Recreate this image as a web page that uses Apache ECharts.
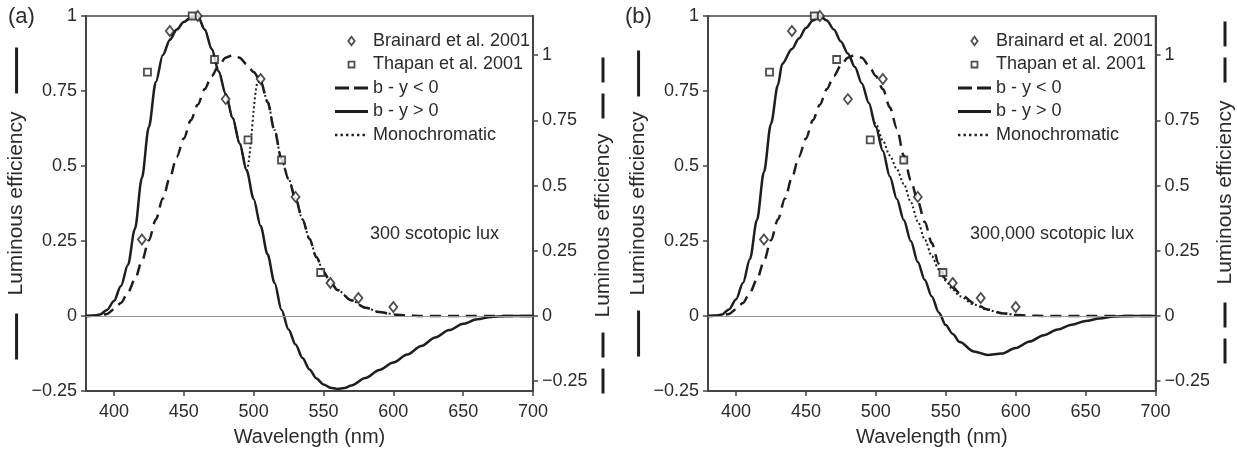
<!DOCTYPE html>
<html><head><meta charset="utf-8">
<script src="https://cdn.jsdelivr.net/npm/echarts@6/dist/echarts.min.js"></script>
<style>html,body{margin:0;padding:0;background:#fff}#c{width:1237px;height:452px}</style>
</head><body><div id="c"></div>
<script>
// ---------- ticks ----------
const xTicks = [400, 450, 500, 550, 600, 650, 700];
const rightTicks = [-0.25, 0, 0.25, 0.5, 0.75, 1];

// ---------- measured points (both panels) ----------
const brainardNm  = [420, 440, 460, 480, 505, 530, 555, 575, 600];
const brainardVal = [0.255, 0.95, 1.0, 0.723, 0.79, 0.397, 0.11, 0.06, 0.03];
const thapanNm  = [424, 456, 472, 496, 520, 548];
const thapanVal = [0.813, 1.0, 0.855, 0.587, 0.52, 0.145];

// ---------- panel (a): 300 scotopic lux ----------
const solidA_nm = [380,385,390,395,400,405,410,415,420,425,430,435,440,445,450,455,460,465,470,475,480,485,490,495,500,505,510,515,520,525,530,535,540,545,550,555,560,565,570,580,590,600,610,620,630,640,650,660,670,680,690,700];
const solidA    = [0,0.001,0.005,0.02,0.05,0.1,0.17,0.29,0.46,0.63,0.78,0.87,0.92,0.955,0.98,0.995,1.0,0.955,0.89,0.815,0.74,0.66,0.575,0.485,0.39,0.3,0.205,0.11,0.02,-0.045,-0.095,-0.14,-0.178,-0.208,-0.228,-0.239,-0.243,-0.24,-0.232,-0.207,-0.18,-0.155,-0.128,-0.1,-0.072,-0.047,-0.026,-0.011,-0.003,0,0,0];
// dashed curve is read on the right-hand axis
const dashA_nm = [380,390,395,400,405,410,415,420,425,430,435,440,445,450,455,460,465,470,475,480,485,490,495,500,505,510,515,520,525,530,535,540,545,550,555,560,570,580,590,600,610,620,650,700];
const dashA    = [0,0.002,0.008,0.025,0.05,0.09,0.14,0.21,0.29,0.37,0.45,0.53,0.61,0.68,0.75,0.81,0.87,0.92,0.96,0.99,1.0,0.99,0.965,0.935,0.9,0.82,0.71,0.6,0.525,0.45,0.37,0.295,0.225,0.17,0.13,0.1,0.06,0.032,0.015,0.006,0.002,0,0,0];
const monoA_nm = [440,445,450,455,460,465,470,475,480,485,490,495,503,505,510,515,520,525,530,535,540,545,550,555,560,570,580,590,600];
const monoA    = [0.92,0.955,0.98,0.995,1.0,0.955,0.89,0.815,0.74,0.66,0.575,0.485,0.78,0.785,0.715,0.62,0.52,0.457,0.392,0.322,0.257,0.196,0.148,0.113,0.087,0.052,0.028,0.013,0.005];

// ---------- panel (b): 300,000 scotopic lux ----------
const solidB_nm = [380,385,390,395,400,405,410,415,420,425,430,433,440,445,450,455,460,465,470,475,480,485,490,495,500,505,510,515,520,525,530,535,540,545,550,555,560,570,580,590,600,610,620,630,640,650,660,670,680,690,700];
const solidB    = [0,0.001,0.005,0.022,0.055,0.11,0.19,0.32,0.48,0.64,0.77,0.84,0.89,0.925,0.96,0.985,1.0,0.985,0.955,0.915,0.875,0.83,0.775,0.71,0.63,0.55,0.465,0.39,0.32,0.25,0.18,0.12,0.065,0.012,-0.03,-0.06,-0.087,-0.118,-0.13,-0.125,-0.107,-0.085,-0.064,-0.045,-0.029,-0.017,-0.008,-0.002,0,0,0];
const dashB_nm = [380,390,395,400,405,410,415,420,425,430,435,440,445,450,455,460,465,470,475,480,485,490,495,500,505,510,515,520,525,530,535,540,545,550,555,560,570,580,590,600,610,620,650,700];
const dashB    = [0,0.002,0.008,0.025,0.05,0.09,0.14,0.21,0.29,0.37,0.45,0.53,0.61,0.68,0.75,0.81,0.87,0.92,0.96,0.99,1.0,0.99,0.96,0.92,0.87,0.8,0.72,0.615,0.52,0.44,0.36,0.28,0.2,0.14,0.11,0.087,0.05,0.025,0.011,0.004,0.001,0,0,0];
const monoB_nm = [497,500,505,510,515,520,525,530,535,540,545,550,555,560,570,580,590,600];
const monoB    = [0.675,0.64,0.585,0.535,0.49,0.44,0.38,0.315,0.255,0.2,0.155,0.118,0.088,0.066,0.038,0.02,0.009,0.003];

// ---------- helpers ----------
const FONT = 'Liberation Sans, Arial, sans-serif';
const INK = '#1e1e1e';
const TXT = '#2b2b2b';
const pairs = (xs, ys) => xs.map((x, i) => [x, ys[i]]);
const fmt = v => { const r = Math.round(v * 10000) / 10000; return r < 0 ? '\u2212' + String(-r) : String(r); };

const N_BR = 'Brainard et al. 2001', N_TH = 'Thapan et al. 2001';
const N_NEG = 'b - y < 0', N_POS = 'b - y > 0', N_MONO = 'Monochromatic';

function xAxisDef(grid) {
  return {
    type: 'value', gridIndex: grid, min: 380, max: 700,
    name: 'Wavelength (nm)', nameLocation: 'middle', nameGap: 36,
    nameTextStyle: { fontSize: 20, color: TXT, fontFamily: FONT },
    axisLine: { show: true, onZero: false, lineStyle: { color: '#444', width: 2 } },
    axisTick: { show: true, length: 5, customValues: xTicks, lineStyle: { color: '#444', width: 1.5 } },
    axisLabel: { customValues: xTicks, fontSize: 18, color: TXT, fontFamily: FONT, margin: 12 },
    splitLine: { show: false }
  };
}
const barRich = () => ({
  s: { width: 46, height: 3, backgroundColor: INK, verticalAlign: 'middle' },
  d: { width: 25, height: 3, backgroundColor: INK, verticalAlign: 'middle' },
  h: { width: 11 },
  g: { width: 18 },
  g2: { width: 15 },
  p: { width: 44 },
  q: { width: 22 }
});

function leftY(grid, name) {
  return {
    type: 'value', gridIndex: grid, position: 'left', min: -0.25, max: 1, interval: 0.25,
    name: name, nameLocation: 'middle', nameRotate: 90, nameGap: 49,
    nameTextStyle: { fontSize: 21, color: TXT, fontFamily: FONT, lineHeight: 22, rich: barRich() },
    axisLine: { show: true, onZero: false, lineStyle: { color: '#444', width: 2 } },
    axisTick: { show: true, length: 5, lineStyle: { color: '#444', width: 1.5 } },
    axisLabel: { fontSize: 18, color: TXT, fontFamily: FONT, margin: 9, formatter: fmt },
    splitLine: { show: false }
  };
}
function rightY(grid, name, gap) {
  return {
    type: 'value', gridIndex: grid, position: 'right', min: -0.2875, max: 1.15,
    name: name, nameLocation: 'middle', nameRotate: 90, nameGap: gap,
    nameTextStyle: { fontSize: 21, color: TXT, fontFamily: FONT, lineHeight: 22, rich: barRich() },
    axisLine: { show: true, onZero: false, lineStyle: { color: '#444', width: 2 } },
    axisTick: { show: true, length: 5, customValues: rightTicks, lineStyle: { color: '#444', width: 1.5 } },
    axisLabel: { customValues: rightTicks, fontSize: 18, color: TXT, fontFamily: FONT, margin: 9, formatter: fmt },
    splitLine: { show: false }
  };
}

const MK = { color: '#fff', borderColor: '#222', borderWidth: 1.8 };
function panelSeries(p, solid, dash, mono) {
  const xi = p, yl = p * 2, yr = p * 2 + 1;
  return [
    { name: N_POS, type: 'line', xAxisIndex: xi, yAxisIndex: yl, data: solid, symbol: 'none', smooth: 0.3, smoothMonotone: 'x',
      lineStyle: { color: INK, width: 2.5, type: 'solid' }, itemStyle: { color: INK }, z: 3,
      markLine: { silent: true, symbol: 'none', label: { show: false }, animation: false,
        lineStyle: { color: '#999', width: 1, type: 'solid' }, data: [{ yAxis: 0 }] } },
    { name: N_NEG, type: 'line', xAxisIndex: xi, yAxisIndex: yr, data: dash, symbol: 'none', smooth: 0.3, smoothMonotone: 'x',
      lineStyle: { color: INK, width: 2.5, type: [11, 7] }, itemStyle: { color: INK }, z: 3 },
    { name: N_MONO, type: 'line', xAxisIndex: xi, yAxisIndex: yl, data: mono, symbol: 'none', smooth: 0.3, smoothMonotone: 'x',
      lineStyle: { color: INK, width: 2, type: [2, 2.5] }, itemStyle: { color: INK }, z: 3 },
    { name: N_BR, type: 'scatter', xAxisIndex: xi, yAxisIndex: yl, data: pairs(brainardNm, brainardVal),
      symbol: 'diamond', symbolSize: [8, 10], itemStyle: MK, z: 5 },
    { name: N_TH, type: 'scatter', xAxisIndex: xi, yAxisIndex: yl, data: pairs(thapanNm, thapanVal),
      symbol: 'rect', symbolSize: 7, itemStyle: MK, z: 5 }
  ];
}

const INKFILL = { color: INK, borderWidth: 0 };
const legendData = [
  { name: N_BR, icon: 'path://M-8,-8M8,8M0,-4.8L3.6,0L0,4.8L-3.6,0Z', itemStyle: MK },
  { name: N_TH, icon: 'path://M-8,-8M8,8M-3.4,-3.4L3.4,-3.4L3.4,3.4L-3.4,3.4Z', itemStyle: MK },
  { name: N_NEG, icon: 'path://M0,0h14v3h-14zM19,0h14v3h-14z', itemStyle: INKFILL },
  { name: N_POS, icon: 'path://M0,0h33v3h-33z', itemStyle: INKFILL },
  { name: N_MONO, icon: 'path://M0,0h2.4v2.4h-2.4zM5.5,0h2.4v2.4h-2.4zM11,0h2.4v2.4h-2.4zM16.5,0h2.4v2.4h-2.4zM22,0h2.4v2.4h-2.4zM27.5,0h2.4v2.4h-2.4zM33,1.2', itemStyle: INKFILL }
];
function legendDef(left) {
  return {
    orient: 'vertical', left: left, top: 32, padding: 0, itemWidth: 33, itemHeight: 14, itemGap: 5.5,
    selectedMode: false, data: legendData,
    textStyle: { fontSize: 18, color: TXT, fontFamily: FONT, lineHeight: 18 }
  };
}

const chart = echarts.init(document.getElementById('c'), null, { renderer: 'canvas' });
chart.setOption({
  backgroundColor: '#fff',
  animation: false,
  grid: [
    { left: 86, top: 16, width: 447, height: 375, show: true, borderColor: '#444', borderWidth: 1.5, backgroundColor: 'transparent' },
    { left: 708, top: 16, width: 448, height: 375, show: true, borderColor: '#444', borderWidth: 1.5, backgroundColor: 'transparent' }
  ],
  xAxis: [xAxisDef(0), xAxisDef(1)],
  yAxis: [
    leftY(0, '{s|}{g|}Luminous efficiency{g|}{s|}'),
    rightY(0, '{d|}{h|}{d|}{g2|}Luminous efficiency{g2|}{d|}{h|}{d|}{p|}', 59),
    leftY(1, '{s|}{g2|}Luminous efficiency{g2|}{s|}'),
    rightY(1, '{q|}{d|}{h|}{d|}{g|}Luminous efficiency{g|}{d|}{h|}{d|}', 55)
  ],
  legend: [legendDef(335), legendDef(958)],
  series: [].concat(
    panelSeries(0, pairs(solidA_nm, solidA), pairs(dashA_nm, dashA), pairs(monoA_nm, monoA)),
    panelSeries(1, pairs(solidB_nm, solidB), pairs(dashB_nm, dashB), pairs(monoB_nm, monoB))
  ),
  graphic: [
    { type: 'text', left: 8, top: 6, style: { text: '(a)', font: '22px ' + FONT, fill: TXT } },
    { type: 'text', left: 625, top: 6, style: { text: '(b)', font: '22px ' + FONT, fill: TXT } },
    { type: 'text', left: 370, top: 225, style: { text: '300 scotopic lux', font: '18px ' + FONT, fill: TXT } },
    { type: 'text', left: 970, top: 225, style: { text: '300,000 scotopic lux', font: '18px ' + FONT, fill: TXT } }
  ]
});
</script>
</body></html>
